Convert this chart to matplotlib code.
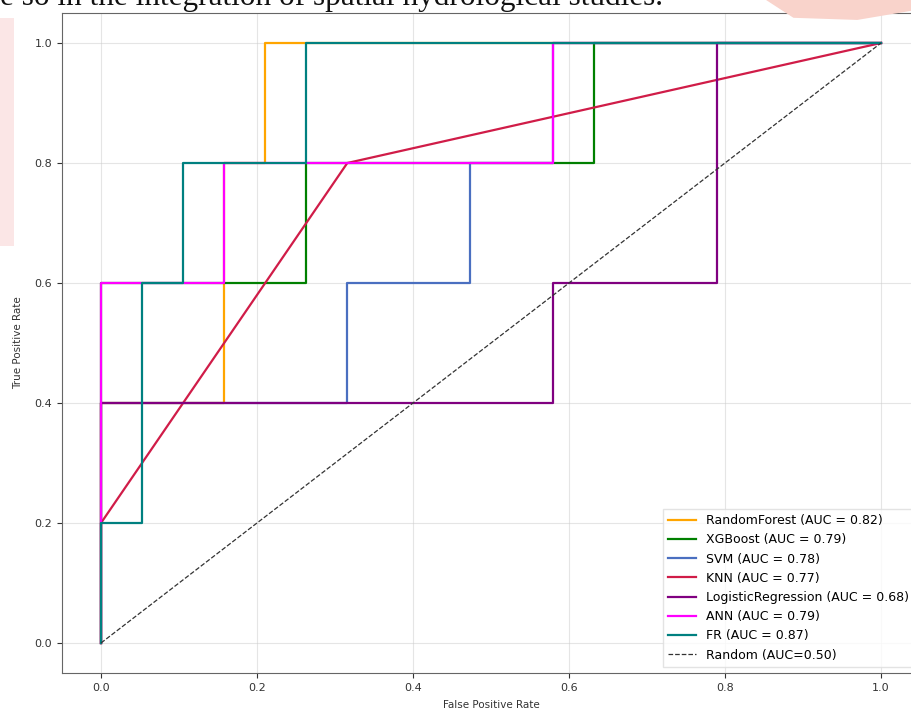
import matplotlib
matplotlib.use("Agg")
import matplotlib.pyplot as plt
from matplotlib.patches import Rectangle, Polygon

# ROC points (false positive rate steps of 1/19, true positive rate steps of 0.2)
k = 1 / 19

models = ["RandomForest", "XGBoost", "SVM", "KNN", "LogisticRegression", "ANN", "FR"]
auc_values = [0.82, 0.79, 0.78, 0.77, 0.68, 0.79, 0.87]
colors = ["orange", "green", "#4a6fc0", "#d01c48", "purple", "magenta", "teal"]

rf_fpr = [0, 0, 3 * k, 3 * k, 4 * k, 4 * k, 1]
rf_tpr = [0, 0.4, 0.4, 0.8, 0.8, 1.0, 1.0]

xgb_fpr = [0, 0, 5 * k, 5 * k, 12 * k, 12 * k, 1]
xgb_tpr = [0, 0.6, 0.6, 0.8, 0.8, 1.0, 1.0]

svm_fpr = [0, 0, 6 * k, 6 * k, 9 * k, 9 * k, 11 * k, 11 * k, 1]
svm_tpr = [0, 0.4, 0.4, 0.6, 0.6, 0.8, 0.8, 1.0, 1.0]

knn_fpr = [0, 0, 6 * k, 1]
knn_tpr = [0, 0.2, 0.8, 1.0]

lr_fpr = [0, 0, 11 * k, 11 * k, 15 * k, 15 * k, 1]
lr_tpr = [0, 0.4, 0.4, 0.6, 0.6, 1.0, 1.0]

ann_fpr = [0, 0, 0, 3 * k, 3 * k, 11 * k, 11 * k, 1]
ann_tpr = [0, 0.2, 0.6, 0.6, 0.8, 0.8, 1.0, 1.0]

fr_fpr = [0, 0, 1 * k, 1 * k, 2 * k, 2 * k, 5 * k, 5 * k, 1]
fr_tpr = [0, 0.2, 0.2, 0.6, 0.6, 0.8, 0.8, 1.0, 1.0]

curves = [
    (rf_fpr, rf_tpr),
    (xgb_fpr, xgb_tpr),
    (svm_fpr, svm_tpr),
    (knn_fpr, knn_tpr),
    (lr_fpr, lr_tpr),
    (ann_fpr, ann_tpr),
    (fr_fpr, fr_tpr),
]

ticks = [0.0, 0.2, 0.4, 0.6, 0.8, 1.0]

fig = plt.figure(figsize=(9.12, 7.12), dpi=100)

# page decorations around the cropped screenshot
fig.patches.append(Rectangle((0, 0.655), 0.015, 0.32, transform=fig.transFigure,
                             facecolor="#fbe6e6", edgecolor="none", zorder=0))
fig.patches.append(Polygon([[0.84, 1.0], [1.0, 1.0], [1.0, 0.985], [0.94, 0.972], [0.87, 0.975]],
                           closed=True, transform=fig.transFigure,
                           facecolor="#f9d3cb", edgecolor="none", zorder=0))
fig.text(0.0, 1 - 5 / 712, "e so in the integration of spatial hydrological studies.",
         family="Liberation Serif", fontsize=22.5, ha="left", va="baseline", color="#111")

ax = fig.add_axes([62 / 912, 39 / 712, 858 / 912, 660 / 712])

for (fpr, tpr), name, auc, color in zip(curves, models, auc_values, colors):
    ax.plot(fpr, tpr, color=color, lw=1.6, label=f"{name} (AUC = {auc:.2f})")

ax.plot([0, 1], [0, 1], color="#333333", lw=0.9, linestyle="--", label="Random (AUC=0.50)")

ax.set_xlim(-0.05, 1.05)
ax.set_ylim(-0.05, 1.05)
ax.set_xticks(ticks)
ax.set_yticks(ticks)
ax.tick_params(labelsize=8, colors="#333333")
for spine in ax.spines.values():
    spine.set_color("#666666")
ax.grid(True, color="#cccccc", alpha=0.5)
ax.set_xlabel("False Positive Rate", fontsize=7.5, color="#333333", labelpad=5)
ax.set_ylabel("True Positive Rate", fontsize=7.5, color="#333333", labelpad=8)

ax.legend(loc="lower right", fontsize=9, handlelength=2.2, labelspacing=0.5,
          framealpha=0.8, edgecolor="#dddddd", fancybox=False)

fig.savefig("out.png", dpi=100)
